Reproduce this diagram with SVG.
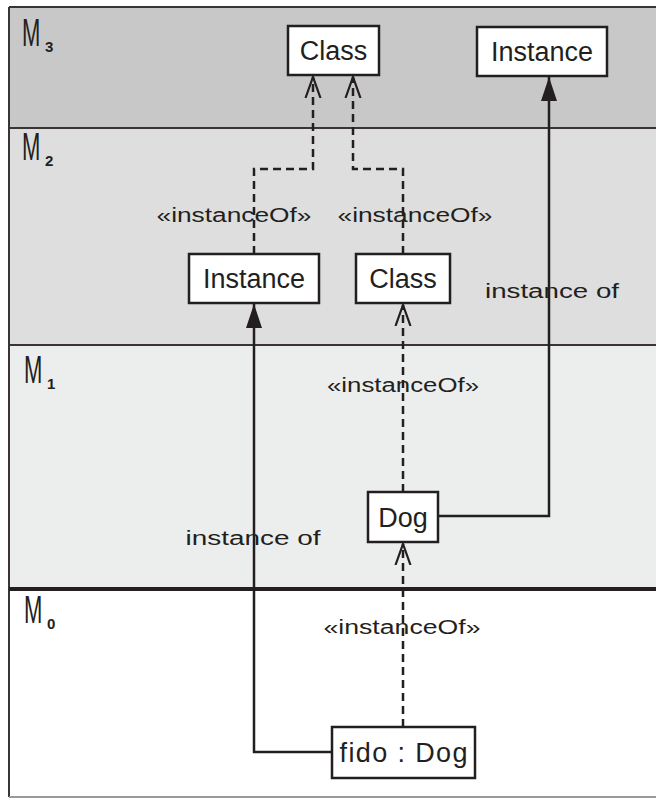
<svg xmlns="http://www.w3.org/2000/svg" width="656" height="798" viewBox="0 0 656 798">
<defs>
<style>
.layer-line{stroke:#3a3434;stroke-width:2;fill:none}
.node rect{fill:#ffffff;stroke:#231f20;stroke-width:2.5}
.node text{font-family:"Liberation Sans",Arial,sans-serif;font-size:27px;fill:#231f20;text-anchor:middle}
.dash{stroke:#231f20;stroke-width:2.5;fill:none;stroke-dasharray:8 5}
.solid{stroke:#231f20;stroke-width:2.5;fill:none}
.lbl{font-family:"Liberation Sans",Arial,sans-serif;font-size:20px;fill:#231f20;text-anchor:middle}
.lay{font-family:"Liberation Sans",Arial,sans-serif;font-size:38px;fill:#231f20}
.sub{font-family:"Liberation Sans",Arial,sans-serif;font-size:15px;font-weight:bold;fill:#231f20}
</style>
<marker id="open" viewBox="0 0 22 18" refX="21" refY="9" markerWidth="22" markerHeight="18" markerUnits="userSpaceOnUse" orient="auto">
<path d="M0,1.5 L21,9 L0,16.5" fill="none" stroke="#231f20" stroke-width="2.2"/>
</marker>
<marker id="filled" viewBox="0 0 24 18" refX="24" refY="9" markerWidth="24" markerHeight="18" markerUnits="userSpaceOnUse" orient="auto">
<path d="M0,1 L24,9 L0,17 Z" fill="#231f20"/>
</marker>
</defs>

<g id="layers">
<rect x="9" y="7" width="647" height="121" fill="#c8c8c8"/>
<rect x="9" y="128" width="647" height="217" fill="#dddedd"/>
<rect x="9" y="345" width="647" height="244" fill="#eceeed"/>
<rect x="9" y="589" width="647" height="208" fill="#ffffff"/>
<line class="layer-line" x1="9" y1="7" x2="656" y2="7"/>
<line class="layer-line" x1="9" y1="7" x2="9" y2="797"/>
<line class="layer-line" x1="9" y1="128" x2="656" y2="128"/>
<line class="layer-line" x1="9" y1="345" x2="656" y2="345"/>
<line x1="9" y1="589" x2="656" y2="589" stroke="#231f20" stroke-width="4"/>
<line x1="9" y1="797" x2="656" y2="797" stroke="#9a9a9a" stroke-width="2"/>
<text class="lay" transform="translate(22,46) scale(0.58,1)">M</text><text class="sub" x="45" y="52">3</text>
<text class="lay" transform="translate(22,160) scale(0.58,1)">M</text><text class="sub" x="45" y="166">2</text>
<text class="lay" transform="translate(24,383) scale(0.58,1)">M</text><text class="sub" x="47" y="389">1</text>
<text class="lay" transform="translate(24,623) scale(0.58,1)">M</text><text class="sub" x="47" y="629">0</text>
</g>

<g id="connectors">
<path class="dash" d="M254,254 V169 H313 V77" marker-end="url(#open)"/>
<path class="dash" d="M403,254 V169 H353 V77" marker-end="url(#open)"/>
<path class="dash" d="M403,492 V305" marker-end="url(#open)"/>
<path class="dash" d="M403,727 V544" marker-end="url(#open)"/>
<path class="solid" d="M332,752 H254 V304" marker-end="url(#filled)"/>
<path class="solid" d="M438,516 H549 V77" marker-end="url(#filled)"/>
<text class="lbl" x="234" y="222" textLength="155" lengthAdjust="spacingAndGlyphs">«instanceOf»</text>
<text class="lbl" x="415" y="222" textLength="155" lengthAdjust="spacingAndGlyphs">«instanceOf»</text>
<text class="lbl" x="403" y="392" textLength="152" lengthAdjust="spacingAndGlyphs">«instanceOf»</text>
<text class="lbl" x="402" y="634" textLength="157" lengthAdjust="spacingAndGlyphs">«instanceOf»</text>
<text class="lbl" x="552" y="298" textLength="134" lengthAdjust="spacingAndGlyphs">instance of</text>
<text class="lbl" x="253" y="545" textLength="135" lengthAdjust="spacingAndGlyphs">instance of</text>
</g>

<g id="node-class-m3" class="node">
<rect x="288" y="26" width="91" height="49"/>
<text x="333.5" y="60">Class</text>
</g>
<g id="node-instance-m3" class="node">
<rect x="477" y="27" width="130" height="49"/>
<text x="542" y="61">Instance</text>
</g>
<g id="node-instance-m2" class="node">
<rect x="189" y="254" width="130" height="49"/>
<text x="254" y="288">Instance</text>
</g>
<g id="node-class-m2" class="node">
<rect x="356" y="254" width="94" height="49"/>
<text x="403" y="288">Class</text>
</g>
<g id="node-dog" class="node">
<rect x="368" y="492" width="70" height="50"/>
<text x="403" y="527">Dog</text>
</g>
<g id="node-fido" class="node">
<rect x="332" y="727" width="143" height="51"/>
<text x="403.5" y="762" textLength="128" lengthAdjust="spacing">fido : Dog</text>
</g>
</svg>
